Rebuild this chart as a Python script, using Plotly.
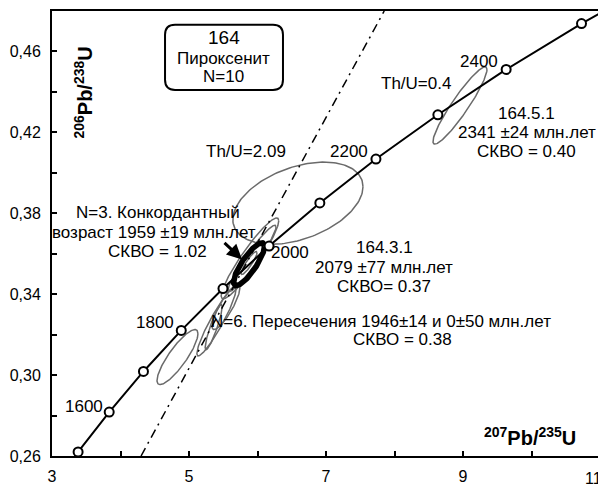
import numpy as np
import plotly.graph_objects as go

# concordia ages (Ma) and their ratios
conc_age = [1400, 1500, 1600, 1700, 1800, 1900, 2000, 2100, 2200, 2300, 2400, 2500, 2600]
conc_x = [2.970, 3.381, 3.835, 4.335, 4.887, 5.496, 6.169, 6.910, 7.729, 8.633, 9.630, 10.730, 11.944]
conc_y = [0.2426, 0.2620, 0.2817, 0.3018, 0.3221, 0.3428, 0.3638, 0.3851, 0.4068, 0.4287, 0.4511, 0.4738, 0.4968]
marker_ages = [1500, 1600, 1700, 1800, 1900, 2000, 2100, 2200, 2300, 2400, 2500]
label_ages = ["1600", "1800", "2000", "2200", "2400"]

# discordia (dash-dot)
disc_x = [4.30, 7.85]
disc_y = [0.26, 0.48]

# gray error ellipses: centre, half-width, half-height, correlation
ell_cx = [6.59, 8.956, 5.89, 5.92, 5.54, 4.832, 5.40, 5.36, 5.876]
ell_cy = [0.385, 0.4333, 0.3577, 0.3577, 0.3337, 0.3089, 0.3264, 0.3237, 0.3554]
ell_sx = [0.95, 0.394, 0.42, 0.35, 0.204, 0.299, 0.285, 0.124, 0.117]
ell_sy = [0.0203, 0.0191, 0.0200, 0.0164, 0.0112, 0.0136, 0.0169, 0.0112, 0.0057]
ell_rho = [0.40, 0.93, 0.93, 0.95, 0.85, 0.85, 0.93, 0.90, 0.90]

# concordant mean ellipse (bold)
conc_ell = [5.876, 0.3548, 0.225, 0.0106, 0.83]

x_ticks = [3, 5, 7, 9, 11]
x_ticktext = ["3", "5", "7", "9", "11"]
x_minor = [4, 6, 8, 10]
y_ticks = [0.26, 0.30, 0.34, 0.38, 0.42, 0.46]
y_ticktext = ["0,26", "0,30", "0,34", "0,38", "0,42", "0,46"]
y_minor = [0.28, 0.32, 0.36, 0.40, 0.44]

FONT = "Liberation Sans, Arial, sans-serif"


def ellipse(cx, cy, sx, sy, rho, n=160):
    t = np.linspace(0, 2 * np.pi, n)
    return cx + sx * np.cos(t), cy + sy * (rho * np.cos(t) + np.sqrt(1 - rho ** 2) * np.sin(t))


fig = go.Figure()

for i in range(len(ell_cx)):
    ex, ey = ellipse(ell_cx[i], ell_cy[i], ell_sx[i], ell_sy[i], ell_rho[i])
    fig.add_trace(go.Scatter(x=ex, y=ey, mode="lines",
                             line=dict(color="#6a6a6a", width=1.5), hoverinfo="skip"))

ex, ey = ellipse(*conc_ell)
fig.add_trace(go.Scatter(x=ex, y=ey, mode="lines",
                         line=dict(color="black", width=5.5), hoverinfo="skip"))

fig.add_trace(go.Scatter(x=disc_x, y=disc_y, mode="lines",
                         line=dict(color="black", width=1.5, dash="9px,5px,2px,5px")))

fig.add_trace(go.Scatter(x=conc_x, y=conc_y, mode="lines",
                         line=dict(color="black", width=2)))

mx = [conc_x[conc_age.index(a)] for a in marker_ages]
my = [conc_y[conc_age.index(a)] for a in marker_ages]
fig.add_trace(go.Scatter(x=mx, y=my, mode="markers",
                         marker=dict(size=9, color="white", line=dict(color="black", width=2))))

# page body adds an 8px offset, so the figure is 8px smaller and margins shifted
fig.update_layout(
    width=598, height=478,
    margin=dict(l=44, r=6, t=3, b=30),
    plot_bgcolor="white", paper_bgcolor="white",
    showlegend=False,
    font=dict(family=FONT, size=16, color="black"),
)

# last x label sits at the right edge, drawn as an annotation so it stays inside
fig.update_xaxes(
    range=[3, 11], tickvals=x_ticks[:-1], ticktext=x_ticktext[:-1], automargin=False,
    showgrid=False, zeroline=False, showline=True, linecolor="black", linewidth=2,
    mirror=True, ticks="inside", ticklen=5, tickwidth=1.5, tickcolor="black",
    minor=dict(tickvals=x_minor, ticks="inside", ticklen=5, tickwidth=1.5, tickcolor="black"),
    ticklabelstandoff=5, tickfont=dict(size=16)
)
fig.update_yaxes(
    range=[0.26, 0.48], tickvals=y_ticks, ticktext=y_ticktext, automargin=False,
    showgrid=False, zeroline=False, showline=True, linecolor="black", linewidth=2,
    mirror=True, ticks="inside", ticklen=5, tickwidth=1.5, tickcolor="black",
    minor=dict(tickvals=y_minor, ticks="inside", ticklen=5, tickwidth=1.5, tickcolor="black"),
    ticklabelstandoff=6, tickfont=dict(size=16)
)
fig.add_annotation(x=x_ticks[-1], y=0.26, text=x_ticktext[-1], showarrow=False,
                   xanchor="right", yanchor="middle", xshift=3, yshift=-22, borderpad=0,
                   font=dict(family=FONT, size=16, color="black"))

# rounded box
x0, x1, y0, y1 = 4.65, 6.372, 0.4410, 0.4732
rx, ry = 0.146, 0.005
path = (f"M {x0+rx},{y0} L {x1-rx},{y0} Q {x1},{y0} {x1},{y0+ry} "
        f"L {x1},{y1-ry} Q {x1},{y1} {x1-rx},{y1} L {x0+rx},{y1} "
        f"Q {x0},{y1} {x0},{y1-ry} L {x0},{y0+ry} Q {x0},{y0} {x0+rx},{y0} Z")
fig.add_shape(type="path", path=path, line=dict(color="black", width=2), xref="x", yref="y")


def txt(x, y, s, size=17, **kw):
    fig.add_annotation(x=x, y=y, text=s, showarrow=False,
                       font=dict(family=FONT, size=size, color="black"), **kw)


txt(5.51, 0.4670, "164", size=19)
txt(5.51, 0.4567, "Пироксенит")
txt(5.51, 0.4478, "N=10")

# age labels
txt(3.467, 0.2843, label_ages[0])
txt(4.504, 0.3260, label_ages[1])
txt(6.474, 0.3607, label_ages[2])
txt(7.336, 0.4107, label_ages[3])
txt(9.234, 0.4548, label_ages[4])

txt(5.832, 0.4107, "Th/U=2.09")
txt(8.314, 0.4440, "Th/U=0.4")

txt(9.934, 0.4291, "164.5.1")
txt(9.934, 0.4201, "2341 ±24 млн.лет")
txt(9.934, 0.4107, "СКВО = 0.40")

txt(7.847, 0.3631, "164.3.1")
txt(7.847, 0.3532, "2079 ±77 млн.лет")
txt(7.847, 0.3438, "СКВО= 0.37")

txt(7.803, 0.3264, "N=6. Пересечения 1946±14 и 0±50 млн.лет")
txt(8.124, 0.3175, "СКВО = 0.38")

txt(4.547, 0.3805, "N=3. Конкордантный")
txt(4.489, 0.3706, "возраст 1959 ±19 млн.лет")
txt(4.533, 0.3611, "СКВО = 1.02")

fig.add_annotation(x=5.774, y=0.3572, ax=5.496, ay=0.3661, axref="x", ayref="y",
                   text="", showarrow=True, arrowhead=2, arrowsize=1, arrowwidth=3,
                   arrowcolor="black")

txt(3.453, 0.4397, "<b><sup>206</sup>Pb/<sup>238</sup>U</b>", size=20, textangle=-90)
txt(9.978, 0.2694, "<b><sup>207</sup>Pb/<sup>235</sup>U</b>", size=20)

fig.write_html("out.html")
